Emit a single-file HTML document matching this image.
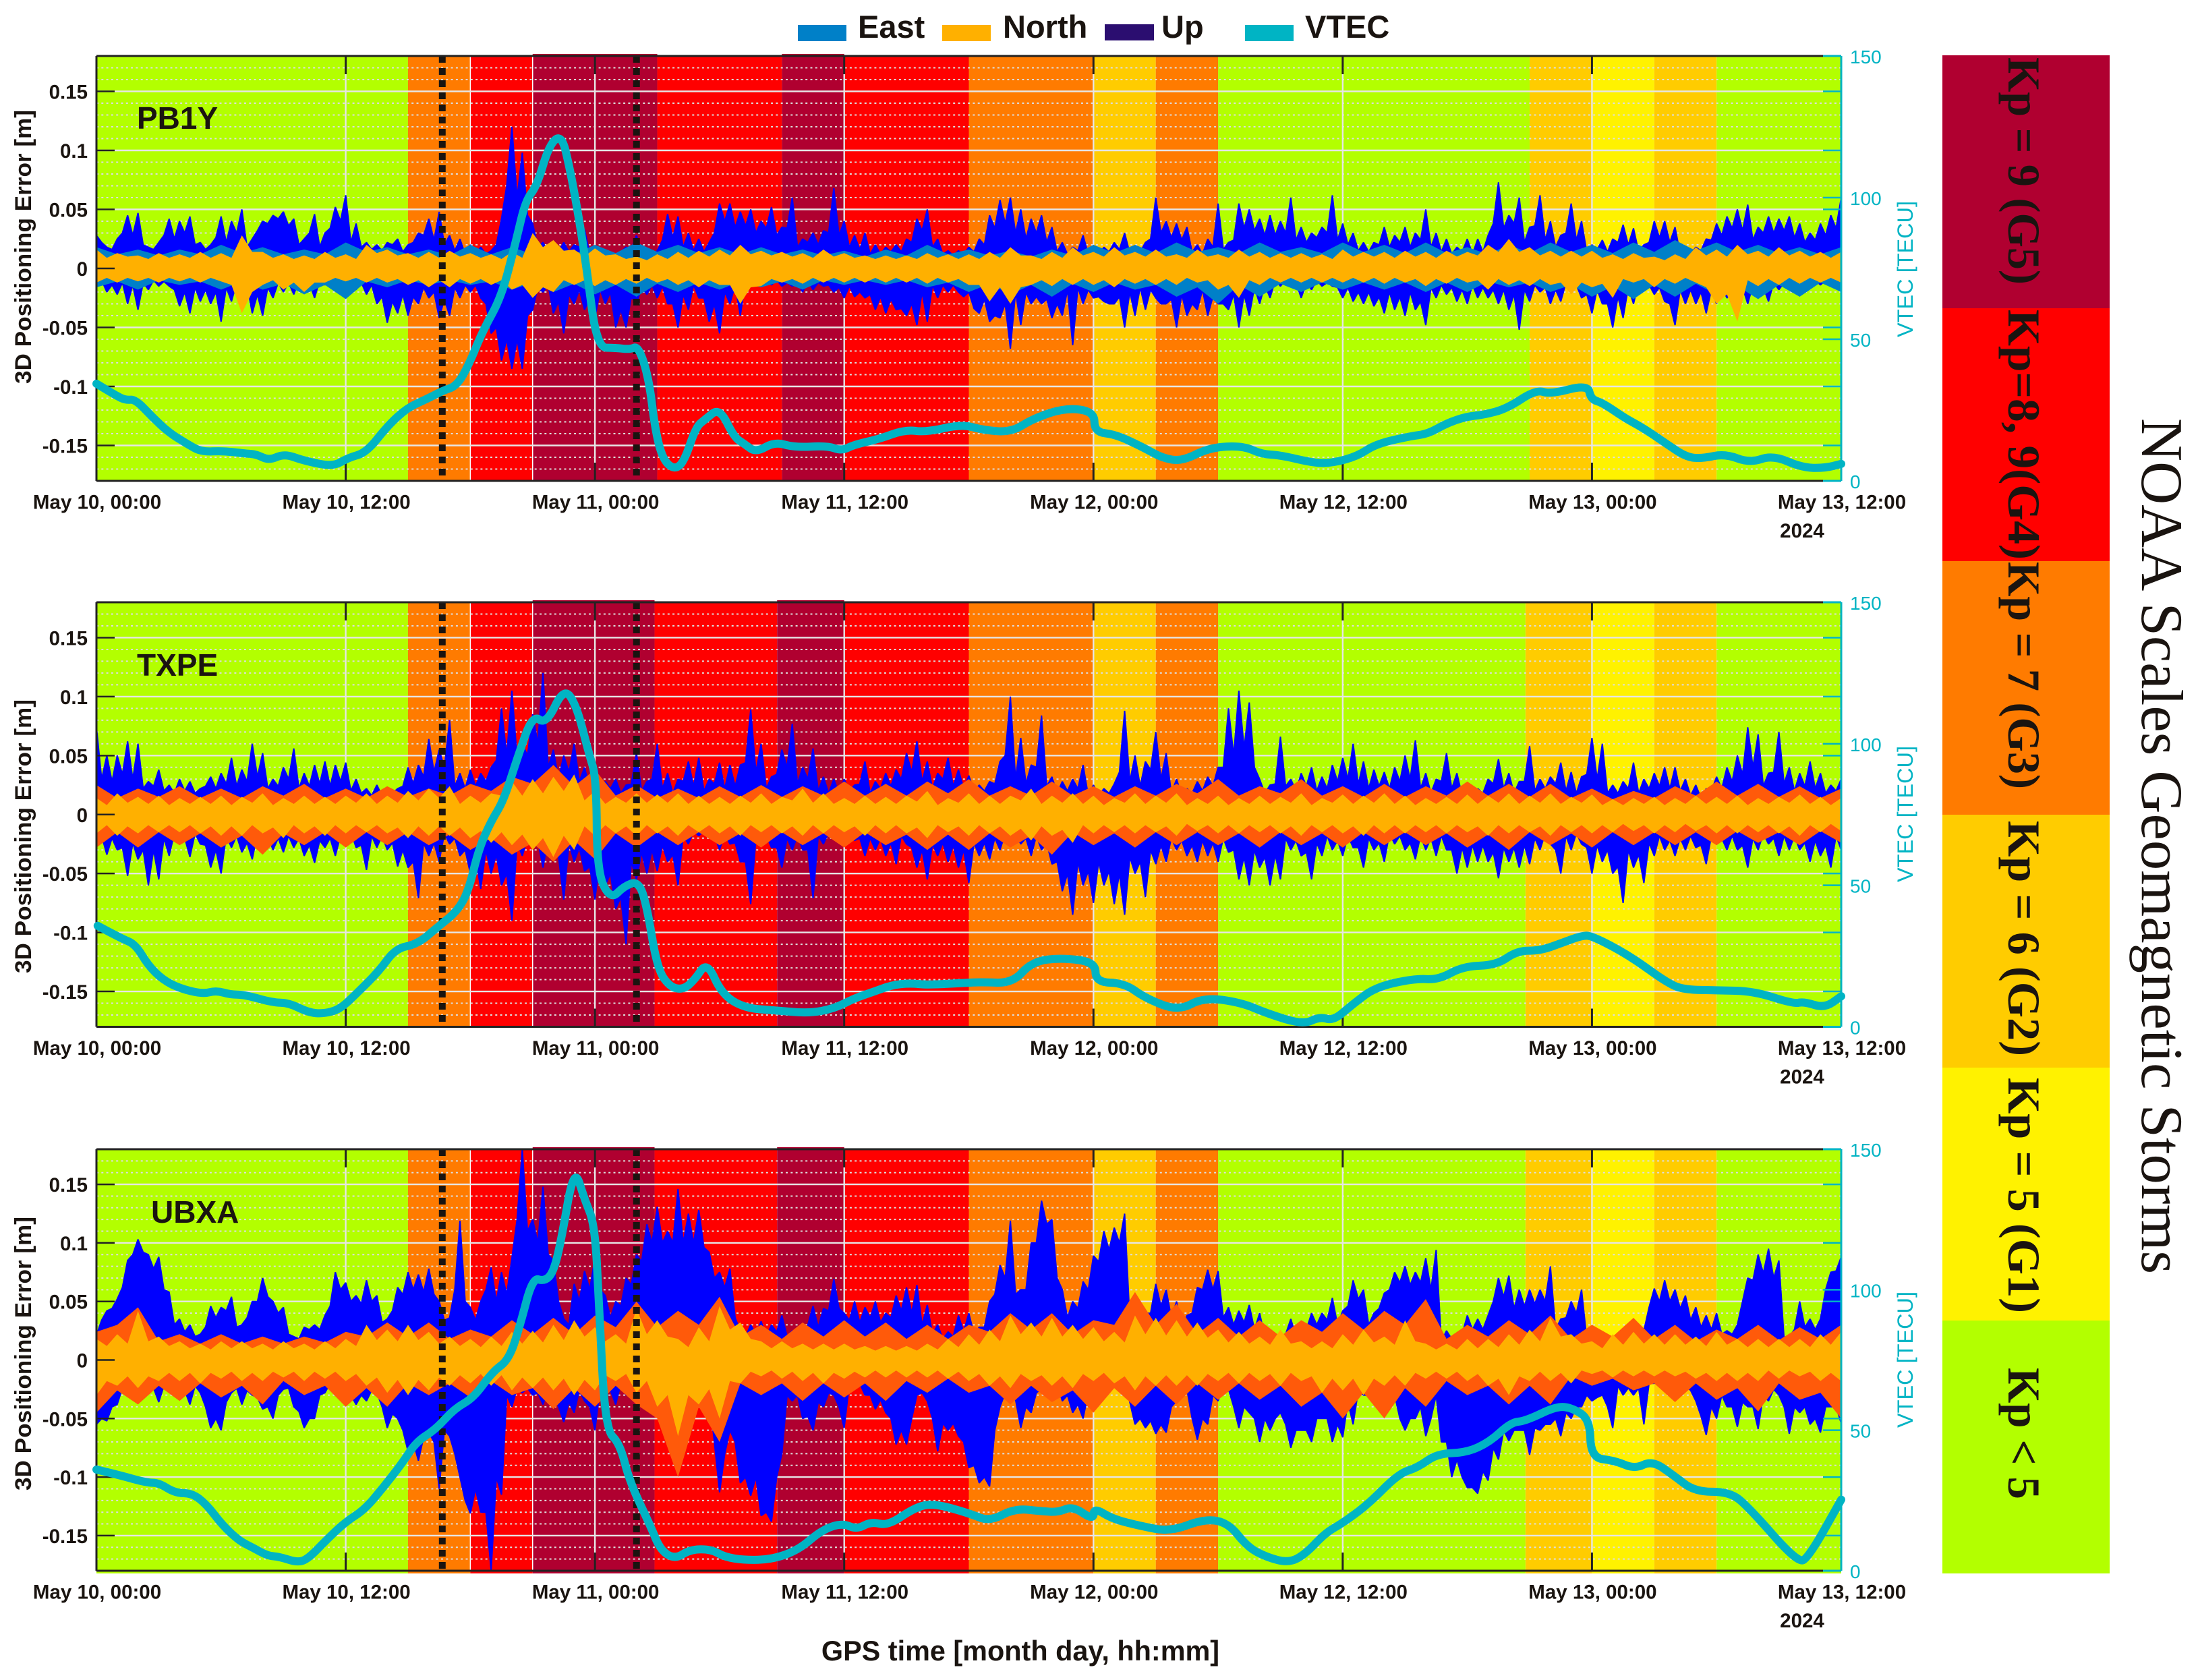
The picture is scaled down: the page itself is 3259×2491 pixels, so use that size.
<!DOCTYPE html>
<html lang="en">
<head>
<meta charset="utf-8">
<title>3D positioning error and VTEC during the May 2024 geomagnetic storm</title>
<style>
html,body{margin:0;padding:0;background:#fff;}
svg{display:block;}
text{font-family:"Liberation Sans",sans-serif;fill:#1a1410;}
.serif{font-family:"Liberation Serif",serif;}
.b{font-weight:700;}
</style>
</head>
<body>
<svg id="chart" xmlns="http://www.w3.org/2000/svg" width="3259" height="2491" viewBox="0 0 3259 2491">
  <rect x="0" y="0" width="3259" height="2491" fill="#fff"/>

  <g>
    <g>
      <rect x="1183" y="37" width="72" height="24" fill="#0080c8"/>
      <text class="b" x="1272" y="56" font-size="47">East</text>
    </g>
    <g>
      <rect x="1397" y="37" width="72" height="24" fill="#ffb000"/>
      <text class="b" x="1487" y="56" font-size="47">North</text>
    </g>
    <g>
      <rect x="1638" y="36" width="73" height="24" fill="#2b0e70"/>
      <text class="b" x="1722" y="56" font-size="47">Up</text>
    </g>
    <g>
      <rect x="1846" y="37" width="72" height="24" fill="#00b4c4"/>
      <text class="b" x="1935" y="56" font-size="47">VTEC</text>
    </g>
  </g>

  <g id="panels"></g>

  <text class="b" x="1513" y="2462" font-size="41.4" text-anchor="middle">GPS time [month day, hh:mm]</text>

  <g>
    <rect x="2880" y="82" width="248" height="376" fill="#b00030"/>
    <rect x="2880" y="457" width="248" height="376" fill="#ff0000"/>
    <rect x="2880" y="832" width="248" height="376" fill="#ff7b00"/>
    <rect x="2880" y="1208" width="248" height="375" fill="#ffcc00"/>
    <rect x="2880" y="1583" width="248" height="375" fill="#fff200"/>
    <rect x="2880" y="1958" width="248" height="375" fill="#b3ff00"/>
    <text class="serif b" font-size="68" transform="translate(2978 85) rotate(90)" textLength="337" lengthAdjust="spacingAndGlyphs">Kp = 9 (G5)</text>
    <text class="serif b" font-size="68" transform="translate(2978 459) rotate(90)" textLength="371" lengthAdjust="spacingAndGlyphs">Kp=8, 9(G4)</text>
    <text class="serif b" font-size="68" transform="translate(2978 833) rotate(90)" textLength="337" lengthAdjust="spacingAndGlyphs">Kp = 7 (G3)</text>
    <text class="serif b" font-size="68" transform="translate(2978 1217) rotate(90)" textLength="349" lengthAdjust="spacingAndGlyphs">Kp = 6 (G2)</text>
    <text class="serif b" font-size="68" transform="translate(2978 1598) rotate(90)" textLength="349" lengthAdjust="spacingAndGlyphs">Kp = 5 (G1)</text>
    <text class="serif b" font-size="68" transform="translate(2978 2028) rotate(90)" textLength="195" lengthAdjust="spacingAndGlyphs">Kp &lt; 5</text>
  </g>
  <text class="serif" font-size="88" transform="translate(3176 620) rotate(90)" textLength="1269" lengthAdjust="spacingAndGlyphs">NOAA Scales Geomagnetic Storms</text>
</svg>

<script>
// ---- shared axis data ----
const xTickHours = [0, 12, 24, 36, 48, 60, 72, 84];
const xTickLabels = ["May 10, 00:00", "May 10, 12:00", "May 11, 00:00", "May 11, 12:00", "May 12, 00:00", "May 12, 12:00", "May 13, 00:00", "May 13, 12:00"];
const yTickValues = [0.15, 0.1, 0.05, 0, -0.05, -0.1, -0.15];
const yTickLabels = ["0.15", "0.1", "0.05", "0", "-0.05", "-0.1", "-0.15"];
const vtecTickValues = [0, 50, 100, 150];
const vtecTickLabels = ["0", "50", "100", "150"];
const stormHours = [16.65, 26];
const seamHours = [18, 21];
const kpColors = {quiet: "#b3ff00", g1: "#fff200", g2: "#ffcc00", g3: "#ff7b00", g4: "#ff0000", g5: "#b00030"};

// Kp zones: start hours (end of the last = 84)
const zoneLevels = ["quiet", "g3", "g4", "g5", "g4", "g5", "g4", "g3", "g2", "g3", "quiet", "g2", "g1", "g2", "quiet"];
const zoneStartsA = [0, 15, 18, 21, 27, 33, 36, 42, 48, 51, 54, 69, 72, 75, 78];
const zoneStartsB = [0, 15, 18, 21, 26.87, 32.77, 36, 42, 48, 51, 54, 68.8, 72, 75, 78];

// ---- PB1Y series (values in mm, VTEC in TECU). "Mid" arrays hold the readings between the main samples ----
const pb1yUpTop = [28,18,25,45,47,18,22,42,40,44,22,20,44,40,50,25,40,45,48,42,25,46,30,52,62,38,22,20,22,25,20,30,42,48,28,25,20,18,15,42,120,98,38,22,20,22,20,33,15,12,12,18,28,15,15,46,44,30,25,22,55,55,
48,50,40,52,35,60,25,30,32,68,40,28,30,20,18,20,25,42,50,25,15,15,18,25,45,58,60,50,42,45,35,22,18,28,15,18,22,30,18,22,60,40,38,35,20,25,55,22,55,50,42,45,40,60,35,30,35,62,38,30,22,22,35,28,35,30,50,30,25,18,25,25,
28,73,45,60,35,62,40,28,55,40,20,24,25,37,34,20,40,40,35,18,18,25,38,44,50,54,35,44,42,44,38,30,38,45,60];
const pb1yUpTopMid = [22,16,30,28,20,16,28,25,30,20,
16,26,22,30,18,32,38,42,36,20,
30,18,34,40,22,18,16,15,20,14,
22,28,24,20,15,12,12,12,20,70,
60,45,18,14,14,14,18,12,10,10,
14,16,14,11,24,26,18,15,14,30,
40,35,36,30,34,28,34,18,22,20,
30,28,18,16,12,12,14,14,22,32,
18,12,11,12,14,20,34,38,30,25,
30,22,14,12,15,12,11,14,16,13,
14,25,30,26,24,14,12,18,16,24,
34,32,28,28,30,24,22,26,30,24,
20,15,14,20,18,22,18,24,18,14,
12,14,12,14,38,34,38,22,36,24,
18,30,24,14,16,14,22,20,14,22,
26,22,12,12,15,24,28,34,32,24,
30,30,32,26,22,24,28,34];
const pb1yUpBottom = [-12,-20,-22,-30,-35,-18,-15,-15,-32,-38,-28,-30,-45,-28,-18,-38,-40,-25,-20,-22,-12,-25,-14,-12,-10,-18,-22,-30,-46,-38,-40,-30,-25,-42,-40,-25,-20,-25,-55,-78,-85,-85,-35,-20,-38,-55,-30,-35,-42,-30,-50,-50,-30,-22,-25,-30,-50,-35,-25,-45,-55,-30,
-40,-12,-12,-14,-15,-15,-20,-18,-15,-20,-25,-24,-25,-35,-38,-35,-40,-48,-45,-25,-20,-20,-20,-38,-45,-42,-68,-48,-30,-30,-42,-40,-65,-30,-25,-28,-30,-50,-40,-35,-25,-30,-50,-40,-35,-40,-30,-35,-50,-40,-30,-25,-15,-15,-25,-18,-15,-15,-25,-28,-30,-32,-38,-35,-40,-35,-48,-25,-22,-28,-30,-25,
-25,-30,-35,-52,-28,-20,-30,-28,-18,-25,-38,-30,-50,-42,-30,-18,-22,-28,-48,-30,-30,-38,-30,-25,-35,-30,-25,-28,-18,-18,-16,-14,-14,-12,-12];
const pb1yUpBottomMid = [-10,-14,-12,-14,-12,-10,-11,-18,-20,-16,
-18,-20,-16,-12,-14,-22,-16,-12,-12,-10,
-12,-10,-10,-8,-10,-12,-14,-24,-28,-22,
-24,-16,-20,-26,-16,-14,-14,-30,-50,-60,
-60,-40,-16,-14,-28,-22,-18,-25,-18,-20,
-35,-24,-16,-14,-15,-30,-22,-14,-25,-30,
-20,-14,-10,-9,-10,-10,-12,-12,-10,-12,
-14,-16,-15,-20,-22,-24,-26,-34,-30,-20,
-14,-14,-14,-24,-34,-26,-40,-30,-20,-20,
-24,-26,-30,-18,-16,-18,-24,-30,-24,-20,
-16,-18,-30,-26,-22,-30,-18,-24,-30,-22,
-22,-16,-14,-10,-10,-12,-12,-10,-12,-16,
-16,-20,-20,-24,-20,-24,-20,-28,-16,-14,
-16,-18,-14,-16,-18,-18,-22,-18,-14,-16,
-18,-12,-14,-22,-18,-30,-24,-16,-12,-14,
-16,-30,-18,-18,-20,-18,-16,-20,-16,-14,
-16,-12,-12,-11,-10,-10,-10,-10];
const pb1yNorthTop = [16,13,11,13,12,14,13,28,14,12,11,14,12,20,16,13,14,15,13,12,14,30,24,16,17,12,10,12,14,15,16,20,15,14,13,16,13,11,11,11,13,12,12,14,18,11,14,18,14,18,14,16,12,16,12,16,14,13,13,12,16,14,14,15,14,15,14,20,25,18,15,15,15,12,13,10,12,18,16,20,15,18,15,14,14];
const pb1yNorthTopMid = [9,10,8,9,9,9,9,14,9,8,
8,9,8,13,11,9,9,10,9,8,
9,18,15,10,11,8,7,8,9,10,
11,12,11,10,9,10,9,8,8,8,
9,8,8,9,11,8,9,11,10,11,
10,10,9,10,9,10,9,9,9,8,
10,10,9,10,9,10,11,14,14,11,
10,10,9,8,9,7,8,11,10,12,
10,11,10,9];
const pb1yNorthBottom = [-12,-12,-11,-12,-11,-12,-11,-38,-14,-18,-20,-12,-11,-12,-12,-14,-16,-16,-13,-14,-18,-25,-20,-14,-15,-14,-13,-12,-14,-16,-14,-30,-15,-12,-13,-12,-12,-12,-12,-12,-13,-12,-14,-28,-30,-14,-15,-14,-14,-16,-13,-14,-14,-12,-18,-25,-14,-12,-12,-12,-12,-12,-13,-12,-15,-13,-12,-18,-14,-15,-14,-22,-16,-25,-12,-16,-13,-12,-30,-45,-15,-14,-13,-12,-12];
const pb1yNorthBottomMid = [-8,-8,-8,-8,-8,-8,-14,-20,-10,-12,
-12,-8,-8,-8,-9,-10,-10,-9,-9,-10,
-14,-16,-10,-10,-10,-9,-8,-9,-10,-10,
-14,-16,-9,-9,-8,-8,-8,-8,-8,-8,
-8,-9,-14,-16,-16,-10,-9,-9,-10,-9,
-9,-9,-8,-10,-14,-10,-8,-8,-8,-8,
-8,-8,-8,-9,-9,-8,-10,-9,-10,-9,
-12,-12,-13,-9,-9,-9,-8,-16,-22,-10,
-9,-8,-8,-8];
const pb1yEastTop = [18,16,16,20,18,16,22,18,16,20,18,16,20,22,20,18,18,16,15,16,20,16,15,16,20,20,22,18,22,18,22,20,22,18,20,22,20,22,24,22,20,18,18];
const pb1yEastTopMid = [12,11,12,13,12,12,14,12,11,12,12,12,13,14,13,12,12,11,10,11,12,11,10,11,13,13,14,13,14,13,14,13,13,12,13,14,13,14,15,14,13,12];
const pb1yEastBottom = [-16,-18,-14,-18,-18,-22,-26,-16,-14,-14,-18,-20,-22,-24,-20,-18,-16,-18,-14,-14,-16,-20,-22,-24,-20,-18,-24,-30,-24,-20,-18,-18,-20,-20,-16,-20,-24,-26,-24,-22,-26,-24,-20];
const pb1yEastBottomMid = [-11,-10,-11,-11,-13,-14,-11,-10,-10,-11,-12,-13,-14,-13,-12,-11,-11,-10,-10,-10,-12,-13,-14,-13,-12,-14,-16,-14,-13,-12,-12,-12,-12,-11,-12,-14,-15,-14,-13,-15,-14,-12];
const pb1yVtecHours = [0,0.96,1.41,1.87,2.67,3.46,4.37,5.06,6.08,7.22,7.68,8.31,9.04,9.95,11.39,12.1,13,14.05,14.97,15.88,16.67,17.36,17.93,18.6,19.5,20.2,20.66,21.2,21.8,22.4,22.8,23.2,23.6,24.1,25,25.67,26.1,26.6,26.9,27.27,27.84,28.3,28.86,29.3,30,30.7,31.2,31.75,32.66,33.6,35.2,35.85,36.5,37.7,38.93,39.95,41.66,42.7,44.05,45.1,46.67,48.04,48.05,49.07,50.4,51.3,52.25,53.6,55.2,56.1,57,58.6,59.5,60.7,61.6,63.2,64.1,65,65.95,66.79,67.9,69.3,70,71.8,71.95,72.5,73.6,74.5,75.6,76.55,77.3,78.4,79.6,80.7,82.1,83.2,84];
const pb1yVtecValues = [34.3,30,28.5,28.8,22.7,17.2,13,10.2,10.6,9.6,9.4,7.2,9.6,7.2,5,8.1,10,19.7,25.8,28.8,31.8,33.6,41,53,65,84.7,99,104,118.7,122.3,110,94,75,47,47,46.4,47.6,36,17.9,7.5,3.9,6.9,19,21.7,25.8,15.4,13,10,13.8,11.8,12.4,10.6,12.8,14.8,18.1,17.2,20,17.9,17.2,22,25.8,24.5,17.2,16.4,11.8,8.1,6.9,11.8,12.4,9.4,9.1,6.3,6.3,8.7,13,15.7,16.6,20.3,22.7,23.3,25.5,32.2,30.6,34,28.8,27.6,22.1,18.5,13,8.4,7.9,9.6,6.3,9.1,4.7,4.5,6];

// ---- TXPE series ----
const txpeUpTop = [74,50,50,62,60,28,38,25,30,28,22,32,35,48,38,60,52,30,40,56,35,42,45,42,44,30,22,25,20,22,40,42,64,55,80,35,38,35,40,90,105,60,85,120,55,50,60,40,30,28,30,25,52,28,60,35,30,45,48,30,44,42,42,89,60,32,55,77,40,56,32,30,30,25,45,28,35,38,52,62,45,35,48,38,
33,25,28,45,100,65,42,84,32,28,30,42,25,22,26,88,50,45,70,52,30,22,28,32,40,90,105,95,30,25,66,30,35,40,32,42,48,60,45,38,36,40,50,63,35,30,52,35,25,22,30,47,35,28,58,30,32,44,36,32,65,60,25,28,44,30,35,40,40,30,25,22,32,40,50,74,68,35,70,40,35,45,35,25,30];
const txpeUpTopMid = [30,28,34,30,22,24,20,18,20,18,
24,22,26,24,28,32,22,24,30,22,
24,26,24,28,20,18,16,16,18,24,
26,32,36,40,24,22,24,28,46,50,
48,50,60,40,30,36,28,22,20,22,
18,26,20,30,22,18,28,24,20,26,
22,24,44,36,22,34,40,26,30,20,
18,18,20,26,18,22,24,30,36,28,
22,30,24,22,20,20,26,50,30,26,
40,24,18,20,22,16,16,18,36,28,
24,38,30,18,16,18,20,24,40,50,
56,40,18,26,24,20,24,20,22,28,
30,26,22,24,22,28,30,22,18,28,
22,16,16,18,26,22,18,28,20,22,
26,20,18,34,30,18,18,22,18,22,
24,22,20,16,14,20,22,28,34,40,
24,36,26,20,24,22,18,20];
const txpeUpBottom = [-25,-34,-30,-52,-38,-60,-55,-35,-25,-36,-25,-45,-50,-28,-32,-38,-25,-30,-32,-28,-35,-41,-28,-35,-22,-28,-47,-28,-30,-44,-45,-71,-35,-40,-25,-35,-50,-63,-50,-60,-90,-35,-28,-45,-30,-72,-40,-48,-72,-60,-80,-110,-55,-50,-48,-40,-60,-25,-18,-18,-30,-25,-40,-76,-25,-28,-45,-30,-30,-71,-25,-20,-18,-22,-35,-30,-35,-42,-25,-45,-55,-35,-40,-45,
-58,-35,-38,-30,-25,-25,-35,-30,-42,-65,-85,-60,-75,-60,-76,-85,-50,-70,-42,-40,-30,-35,-40,-35,-40,-32,-55,-60,-45,-60,-55,-30,-35,-55,-35,-30,-35,-28,-45,-30,-40,-25,-30,-38,-30,-35,-30,-50,-45,-40,-40,-54,-40,-45,-42,-30,-25,-50,-30,-25,-50,-40,-50,-75,-45,-58,-35,-30,-35,-30,-28,-42,-25,-30,-30,-45,-30,-25,-35,-30,-30,-40,-35,-45,-30];
const txpeUpBottomMid = [-18,-20,-28,-24,-30,-30,-20,-16,-20,-16,
-26,-30,-18,-18,-24,-16,-18,-20,-18,-20,
-26,-22,-20,-18,-15,-26,-18,-18,-24,-30,
-40,-24,-24,-16,-20,-30,-36,-30,-34,-50,
-24,-20,-22,-20,-36,-24,-28,-44,-36,-50,
-70,-40,-32,-30,-26,-34,-18,-14,-14,-18,
-16,-24,-40,-20,-18,-28,-20,-18,-30,-18,
-15,-13,-14,-20,-20,-20,-24,-18,-28,-30,
-25,-24,-26,-30,-24,-24,-20,-16,-16,-20,
-18,-24,-40,-50,-40,-48,-40,-48,-50,-36,
-40,-30,-26,-20,-22,-26,-22,-24,-20,-30,
-36,-30,-36,-34,-20,-22,-32,-24,-18,-22,
-18,-28,-20,-24,-16,-18,-24,-18,-20,-18,
-30,-28,-26,-26,-32,-28,-28,-26,-20,-16,
-30,-18,-16,-28,-26,-30,-44,-30,-34,-24,
-18,-22,-20,-18,-26,-18,-20,-18,-26,-20,
-16,-20,-18,-18,-24,-22,-26,-18];
const txpeNorthTop = [14,18,15,16,14,15,16,15,18,14,16,15,16,18,16,20,22,24,16,18,28,30,32,34,20,15,18,17,18,16,15,16,18,15,22,18,14,16,15,16,20,14,18,16,16,22,16,18,16,14,18,16,18,14,16,14,16,15,18,14,17,16,18,16,14,15,17,16,18,16,18,15,17,13,14,15,14,16,15,16,14,15,17,15,14];
const txpeNorthTopMid = [8,10,9,8,9,9,8,10,8,9,
9,9,10,9,10,12,14,9,10,16,
16,18,20,12,9,10,10,10,9,9,
9,10,9,12,10,9,9,9,9,11,
8,10,9,9,12,9,10,9,8,10,
9,10,8,9,8,9,9,10,8,10,
9,10,9,8,9,9,9,10,9,10,
9,10,8,8,9,8,9,9,9,8,
9,10,9,8];
const txpeNorthBottom = [-16,-18,-16,-15,-15,-16,-18,-18,-16,-20,-16,-18,-16,-15,-16,-20,-18,-18,-20,-24,-26,-30,-36,-30,-18,-16,-18,-16,-18,-15,-16,-18,-15,-16,-18,-16,-15,-18,-16,-16,-20,-15,-18,-16,-18,-22,-18,-24,-16,-15,-16,-15,-18,-14,-16,-16,-15,-16,-18,-15,-16,-18,-16,-16,-15,-16,-15,-18,-16,-15,-18,-15,-16,-15,-14,-16,-15,-14,-16,-16,-15,-16,-18,-15,-14];
const txpeNorthBottomMid = [-9,-10,-9,-9,-9,-10,-10,-9,-11,-9,
-10,-9,-9,-9,-11,-10,-10,-11,-14,-15,
-17,-20,-18,-10,-9,-10,-9,-10,-9,-9,
-10,-9,-9,-10,-9,-9,-10,-9,-9,-11,
-9,-10,-9,-10,-12,-10,-13,-9,-9,-9,
-9,-10,-8,-9,-9,-9,-9,-10,-9,-9,
-10,-9,-9,-9,-9,-9,-10,-9,-9,-10,
-9,-9,-9,-8,-9,-9,-8,-9,-9,-9,
-9,-10,-9,-8];
const txpeEastTop = [25,22,24,22,24,26,22,24,22,26,32,42,38,25,22,24,25,24,28,26,28,30,24,28,24,24,26,30,24,30,24,26,24,28,26,26,22,20,24,28,26,24,22];
const txpeEastTopMid = [14,15,14,14,16,14,14,15,16,20,26,24,16,14,14,15,15,16,16,16,18,16,16,16,15,16,18,16,18,16,15,15,16,16,15,14,13,14,16,16,15,14];
const txpeEastBottom = [-28,-28,-26,-28,-34,-26,-28,-26,-26,-30,-34,-40,-38,-28,-26,-26,-28,-26,-28,-26,-30,-30,-28,-34,-26,-28,-26,-26,-28,-26,-28,-26,-26,-28,-30,-26,-28,-26,-26,-26,-24,-26,-24];
const txpeEastBottomMid = [-15,-15,-16,-18,-16,-15,-15,-15,-17,-20,-24,-22,-16,-15,-15,-16,-15,-16,-15,-17,-17,-16,-18,-15,-16,-15,-15,-16,-15,-16,-15,-15,-16,-17,-15,-16,-15,-15,-15,-14,-15,-14];
const txpeVtecHours = [0.06,1.2,1.87,2.5,3.2,4,5.1,5.77,6.44,7.1,8.46,9.27,10.2,10.9,11.7,12.5,13.6,14.4,15.46,16.5,17.35,17.9,18.4,19,19.6,20.3,21,21.65,22.5,23.1,23.7,24.07,24.1,24.75,25.4,26.1,26.5,27,27.6,28.25,28.8,29.4,30.1,31.2,32.7,34.3,35.5,36.5,37.3,38.3,39.2,40,41.8,42.6,44.1,45.05,46.5,48.1,48.1,49.5,50.5,52.1,53.3,55.1,56.4,58.1,58.9,59.55,60.5,61.6,63.5,64.6,65.8,67.4,68.4,69.5,70.5,71.5,72,73.8,75.7,76.5,78,79.8,81.7,82.2,83.2,84];
const txpeVtecValues = [35.7,31.2,29.2,21.6,16.6,13.6,11.6,12.8,11.4,11.4,8.6,8.4,5.1,4.6,6.1,11.6,19.6,27.7,29.2,35.7,40.7,47.7,62.7,72.7,79.8,95.8,110.3,106.8,119.8,113.8,96.8,87.8,54.7,44.9,49.7,51.5,42.7,20.6,14.1,13.1,16.6,23.1,11.6,6.6,5.8,4.8,6.4,10.1,12.1,14.8,15.4,14.8,15.5,15.8,15.4,23.1,24.4,22.8,15.8,15.4,10.1,5.6,10.4,8.6,4.6,0.8,3.6,2.1,8.1,14.1,17.1,16.6,21.4,21.8,26.9,26.9,29.5,32.2,32.2,25.2,15.1,13.1,12.9,12.6,8.1,8.9,6.6,10.8];

// ---- UBXA series ----
const ubxaUpTop = [21,42,52,85,103,90,88,58,35,30,22,46,45,54,30,50,70,50,45,20,28,30,38,75,66,55,68,55,35,62,75,73,78,50,36,119,45,50,79,75,87,180,120,148,85,35,65,76,87,55,50,70,90,116,131,110,146,125,128,92,75,78,25,
30,33,30,38,25,22,46,44,69,40,50,45,50,40,55,62,64,47,30,24,38,40,28,50,81,119,60,100,136,120,60,50,67,89,110,113,125,50,40,65,60,50,38,62,77,76,45,42,47,40,25,20,35,25,40,40,53,42,68,60,40,57,75,80,75,87,94,25,20,38,35,38,70,72,60,60,60,80,35,50,60,22,20,12,15,22,25,61,68,60,55,45,38,40,25,30,70,90,95,85,20,50,35,35,75,88];
const ubxaUpTopMid = [34,44,62,90,92,78,60,30,24,20,
28,36,42,28,36,50,54,40,22,18,
26,26,46,60,50,48,50,32,42,56,
60,58,56,34,60,50,34,60,50,56,
120,110,100,90,50,30,50,60,60,36,
46,64,84,100,100,100,100,100,96,70,
62,36,20,22,20,24,20,18,30,28,
42,44,34,32,36,32,36,42,40,30,
22,18,20,24,22,28,56,70,56,60,
100,116,70,36,44,60,84,94,100,34,
22,40,46,36,26,40,60,60,36,30,
32,26,20,16,22,20,26,30,34,30,
46,52,30,44,60,66,64,66,60,16,
18,22,26,26,50,54,44,46,48,50,
26,36,40,18,14,10,10,16,20,45,
50,50,44,34,28,26,22,22,50,68,
74,70,18,26,28,26,60,76];
const ubxaUpBottom = [-55,-52,-38,-27,-20,-25,-36,-25,-30,-38,-28,-58,-60,-28,-38,-30,-42,-50,-25,-40,-58,-50,-28,-25,-35,-38,-35,-28,-58,-50,-78,-86,-62,-110,-65,-100,-131,-130,-180,-115,-40,-28,-30,-38,-30,-53,-45,-35,-60,-28,-38,-30,-25,-28,-30,-40,-48,-35,-33,-30,-113,-60,-105,-116,-133,-138,-80,-35,-50,-60,-40,-30,-58,-22,-30,-42,-45,-72,-72,-30,-35,-78,-60,-65,-92,-105,-108,-40,-30,-58,-45,-25,-22,-35,-45,-50,-28,-22,-20,-20,-55,-58,-63,-62,-35,-25,-68,-55,-35,-25,-58,-45,-70,-60,-45,-75,-60,-70,-50,-70,-66,-55,-30,-38,-35,-30,-60,-50,-65,-30,-70,-85,-109,-114,-103,-85,-69,-60,-81,-60,-55,-65,-50,-40,-35,-30,-58,-30,-30,-55,-20,-18,-25,-22,-35,-64,-50,-40,-57,-40,-59,-35,-30,-63,-45,-55,-62,-40,-54];
const ubxaUpBottomMid = [-50,-40,-24,-18,-18,-24,-22,-20,-26,-22,
-40,-50,-36,-24,-26,-32,-40,-30,-24,-44,
-50,-30,-20,-24,-30,-30,-26,-40,-46,-60,
-70,-66,-70,-60,-80,-120,-110,-130,-100,-30,
-24,-24,-28,-24,-40,-36,-26,-40,-24,-26,
-20,-20,-20,-22,-28,-36,-30,-24,-24,-70,
-80,-70,-100,-100,-130,-100,-30,-30,-48,-36,
-28,-40,-20,-20,-30,-34,-50,-60,-50,-28,
-50,-54,-54,-70,-90,-100,-60,-28,-34,-40,
-28,-18,-20,-30,-38,-28,-20,-18,-18,-36,
-50,-52,-55,-40,-24,-50,-50,-30,-22,-40,
-40,-50,-50,-50,-55,-60,-60,-50,-50,-55,
-36,-26,-30,-28,-40,-50,-50,-40,-50,-70,
-100,-100,-109,-95,-75,-60,-60,-60,-58,-55,
-50,-45,-40,-30,-32,-40,-22,-24,-24,-20,
-15,-18,-18,-26,-48,-40,-30,-40,-36,-40,
-30,-25,-40,-40,-40,-50,-40,-40];
const ubxaNorthTop = [18,22,42,20,16,14,16,16,14,16,14,16,18,30,26,30,24,20,18,20,24,25,30,34,28,22,44,34,18,28,46,32,16,16,14,14,14,12,12,12,14,18,22,26,38,32,36,30,28,24,38,36,34,32,26,24,20,26,16,16,22,26,20,34,14,14,18,18,22,26,36,22,16,22,24,22,22,20,24,18,18,18,18,22,24];
const ubxaNorthTopMid = [12,14,16,12,10,9,10,10,9,10,
9,10,12,17,16,17,14,12,11,12,
14,15,17,20,16,14,22,20,11,16,
26,18,10,10,9,9,9,8,8,8,
9,11,13,16,22,20,20,18,16,15,
22,21,20,19,15,14,13,14,10,10,
13,15,13,16,9,9,10,11,13,16,
20,14,10,13,14,13,13,12,13,11,
11,11,11,13];
const ubxaNorthBottom = [-30,-22,-24,-18,-18,-20,-16,-18,-18,-15,-18,-16,-18,-22,-28,-30,-26,-22,-20,-22,-26,-24,-26,-30,-26,-18,-28,-40,-65,-38,-50,-20,-14,-16,-18,-20,-16,-15,-15,-15,-15,-16,-18,-22,-24,-18,-22,-24,-18,-20,-26,-22,-22,-22,-18,-20,-18,-22,-18,-28,-26,-30,-22,-22,-16,-16,-18,-22,-30,-18,-18,-20,-12,-15,-14,-14,-14,-16,-18,-18,-18,-16,-14,-18,-18];
const ubxaNorthBottomMid = [-18,-14,-14,-11,-11,-11,-10,-11,-10,-10,
-10,-10,-12,-15,-17,-17,-15,-13,-12,-13,
-15,-15,-16,-17,-13,-12,-18,-30,-30,-25,
-18,-10,-9,-10,-11,-11,-10,-9,-9,-9,
-9,-10,-12,-14,-12,-13,-14,-12,-11,-14,
-14,-13,-13,-12,-11,-11,-12,-11,-14,-16,
-16,-16,-13,-11,-10,-10,-12,-16,-14,-10,
-11,-9,-9,-9,-9,-9,-10,-11,-11,-11,
-9,-9,-10,-11];
const ubxaEastTop = [24,45,22,22,20,20,24,32,32,26,34,36,38,50,42,54,30,32,34,32,30,30,40,40,34,58,48,36,34,34,40,42,52,30,34,38,30,36,30,26,30,28,30];
const ubxaEastTopMid = [30,16,14,14,14,15,20,20,18,20,22,22,28,28,30,20,18,20,20,18,18,24,26,22,30,30,22,20,20,24,26,30,18,20,22,18,20,18,16,18,17,18];
const ubxaEastBottom = [-45,-38,-35,-32,-38,-30,-40,-40,-30,-32,-30,-42,-40,-38,-100,-70,-30,-35,-32,-35,-28,-28,-38,-36,-45,-40,-38,-34,-34,-40,-50,-50,-40,-30,-38,-38,-22,-26,-36,-34,-44,-34,-50];
const ubxaEastBottomMid = [-26,-22,-20,-22,-18,-22,-24,-20,-20,-18,-24,-24,-22,-50,-40,-20,-20,-20,-20,-18,-16,-22,-22,-26,-24,-22,-20,-20,-22,-28,-28,-24,-18,-22,-22,-14,-16,-20,-20,-24,-20,-28];
const ubxaVtecHours = [0,1.07,2.44,3,3.8,4.6,5.3,6.08,6.88,7.56,8.25,8.8,9.68,10.2,11.1,12,12.9,13.83,14.74,15.4,16.33,17.24,18.15,19.07,19.86,20.4,21,21.57,22,22.37,23,23.5,24,24.2,24.5,25.2,25.67,26.7,27.15,27.84,28.6,29.6,30.25,31.2,32.5,33.8,34.9,35.9,36.6,37.3,38.1,39.4,40.3,42,43,44.2,45.5,46.3,47,48,48.02,48.9,50.2,51.7,53.35,54.5,55.42,56.35,57.4,58.2,59.15,60,61.2,62.7,63.6,64.55,65.95,67.07,68.1,68.8,70.3,71.07,71.9,71.95,73.1,74.06,74.9,75.9,76.95,78.6,79.5,81.9,82.44,84];
const ubxaVtecValues = [36,34.1,31.3,31.3,27.6,27.6,23.6,16.1,10.6,8.1,5.3,5,2.9,4.3,11.2,17.4,21.7,29.8,38.5,45.9,50.3,57.7,61.5,70.8,75.1,87.5,104.3,103,106.2,117.3,144,132.2,123,93.7,50.3,45.3,31.7,15.5,7.4,4.1,7.6,7.6,4.9,3.8,4,7.4,14.4,17,14.7,17.5,16,22.5,24,20.5,17.5,22.2,21.2,20.8,23,18,22.5,18.5,16,13.9,18.5,17,8.4,4.8,2.8,5.9,13.4,17,23.5,34.6,36.7,41.7,42,45.8,52.8,53.3,58.6,57.9,53.8,40.2,39.2,36.2,39.2,34.1,28.1,28.1,23,2.8,4.8,25.3];

// ---- drawing ----
const SVGNS = "http://www.w3.org/2000/svg";
const X0 = 143, X1 = 2730, HOURS = 84, YMAX = 0.18, VTECMAX = 150;
const xScale = h => X0 + (h / HOURS) * (X1 - X0);
function weave(main, mid) {
  const out = [];
  main.forEach((v, i) => {
    out.push(v);
    if (i < mid.length) out.push(mid[i]);
  });
  return out;
}
const panels = [
  {key:"pb1y", name:"PB1Y", top:83, bottom:713, nameX:203, nameY:191, titleY:366, vtecTitleY:399, zones:zoneStartsA, bleed:0,
   upTop:weave(pb1yUpTop,pb1yUpTopMid), upBottom:weave(pb1yUpBottom,pb1yUpBottomMid), northTop:weave(pb1yNorthTop,pb1yNorthTopMid), northBottom:weave(pb1yNorthBottom,pb1yNorthBottomMid), eastTop:weave(pb1yEastTop,pb1yEastTopMid), eastBottom:weave(pb1yEastBottom,pb1yEastBottomMid), vtecHours:pb1yVtecHours, vtecValues:pb1yVtecValues, eastColor:"#0080c8"},
  {key:"txpe", name:"TXPE", top:893, bottom:1522.5, nameX:203, nameY:1002, titleY:1240, vtecTitleY:1207, zones:zoneStartsB, bleed:0,
   upTop:weave(txpeUpTop,txpeUpTopMid), upBottom:weave(txpeUpBottom,txpeUpBottomMid), northTop:weave(txpeNorthTop,txpeNorthTopMid), northBottom:weave(txpeNorthBottom,txpeNorthBottomMid), eastTop:weave(txpeEastTop,txpeEastTopMid), eastBottom:weave(txpeEastBottom,txpeEastBottomMid), vtecHours:txpeVtecHours, vtecValues:txpeVtecValues, eastColor:"#ff5a0a"},
  {key:"ubxa", name:"UBXA", top:1704, bottom:2329, nameX:224, nameY:1813, titleY:2007, vtecTitleY:2016, zones:zoneStartsB, bleed:4,
   upTop:weave(ubxaUpTop,ubxaUpTopMid), upBottom:weave(ubxaUpBottom,ubxaUpBottomMid), northTop:weave(ubxaNorthTop,ubxaNorthTopMid), northBottom:weave(ubxaNorthBottom,ubxaNorthBottomMid), eastTop:weave(ubxaEastTop,ubxaEastTopMid), eastBottom:weave(ubxaEastBottom,ubxaEastBottomMid), vtecHours:ubxaVtecHours, vtecValues:ubxaVtecValues, eastColor:"#ff5a0a"}
];

function make(parent, tag, name, attrs, txt) {
  const el = document.createElementNS(SVGNS, tag);
  for (const k in attrs) el.setAttribute(k, attrs[k]);
  
  
  if (txt !== undefined) el.textContent = txt;
  parent.appendChild(el);
  return el;
}

function bandPath(top, bottom, yScale) {
  const nT = top.length, nB = bottom.length;
  let d = "";
  for (let i = 0; i < nT; i++) {
    d += (i ? "L" : "M") + xScale(i * HOURS / (nT - 1)).toFixed(1) + " " + yScale(top[i] / 1000).toFixed(1);
  }
  for (let i = nB - 1; i >= 0; i--) {
    d += "L" + xScale(i * HOURS / (nB - 1)).toFixed(1) + " " + yScale(bottom[i] / 1000).toFixed(1);
  }
  return d + "Z";
}

function smoothLine(pts) {
  let d = "M" + pts[0][0].toFixed(1) + " " + pts[0][1].toFixed(1);
  for (let i = 1; i < pts.length - 1; i++) {
    const mx = (pts[i][0] + pts[i + 1][0]) / 2, my = (pts[i][1] + pts[i + 1][1]) / 2;
    d += "Q" + pts[i][0].toFixed(1) + " " + pts[i][1].toFixed(1) + " " + mx.toFixed(1) + " " + my.toFixed(1);
  }
  const last = pts[pts.length - 1];
  return d + "L" + last[0].toFixed(1) + " " + last[1].toFixed(1);
}

const root = document.getElementById("panels");
panels.forEach(p => {
  const h = p.bottom - p.top;
  const yScale = v => p.top + (YMAX - v) / (2 * YMAX) * h;
  const vtecScale = v => p.bottom - (v / VTECMAX) * h;
  const g = make(root, "g", "panel-" + p.key, {});

  // Kp background zones
  const bg = make(g, "g", "kp-background-" + p.key, {});
  zoneLevels.forEach((lvl, i) => {
    const a = p.zones[i], b = i + 1 < p.zones.length ? p.zones[i + 1] : HOURS;
    const extra = lvl === "g5" ? 3 : 0;
    make(bg, "rect", "kp-zone-" + lvl, {
      x: xScale(a), y: p.top - extra, width: xScale(b) - xScale(a),
      height: h + extra + p.bleed, fill: kpColors[lvl]
    });
  });
  seamHours.forEach(sh => {
    make(bg, "line", "kp-zone-seam", {x1: xScale(sh), x2: xScale(sh), y1: p.top, y2: p.bottom, stroke: "#fff", "stroke-width": 1.5});
  });

  // grid
  const grid = make(g, "g", "grid-" + p.key, {});
  for (let mm = -170; mm <= 170; mm += 10) {
    if (mm % 50 === 0) continue;
    make(grid, "line", "minor-gridline", {x1: X0, x2: X1, y1: yScale(mm / 1000), y2: yScale(mm / 1000), stroke: "#ddd", "stroke-width": 2, "stroke-dasharray": "3 4.3"});
  }
  yTickValues.forEach(v => {
    make(grid, "line", "major-gridline", {x1: X0, x2: X1, y1: yScale(v), y2: yScale(v), stroke: "#e6e6e6", "stroke-width": 2.4});
  });
  xTickHours.forEach(t => {
    make(grid, "line", "vertical-gridline", {x1: xScale(t), x2: xScale(t), y1: p.top, y2: p.bottom, stroke: "#e6e6e6", "stroke-width": 2.4});
  });

  // traces
  make(g, "path", "up-error-trace-" + p.key, {d: bandPath(p.upTop, p.upBottom, yScale), fill: "#0000ff", stroke: "#0000ff", "stroke-width": 2, "stroke-linejoin": "bevel"});
  make(g, "path", "east-error-trace-" + p.key, {d: bandPath(p.eastTop, p.eastBottom, yScale), fill: p.eastColor});
  make(g, "path", "north-error-trace-" + p.key, {d: bandPath(p.northTop, p.northBottom, yScale), fill: "#ffb000"});

  // storm markers
  stormHours.forEach(sh => {
    make(g, "line", "storm-marker-line", {x1: xScale(sh), x2: xScale(sh), y1: p.top, y2: p.bottom, stroke: "#1a1410", "stroke-width": 10, "stroke-dasharray": "10 8"});
  });

  // frame
  const axes = make(g, "g", "axes-" + p.key, {});
  make(axes, "line", "left-axis-line", {x1: X0, x2: X0, y1: p.top, y2: p.bottom, stroke: "#222", "stroke-width": 3});
  make(axes, "line", "top-axis-line", {x1: X0, x2: X1 - 27, y1: p.top, y2: p.top, stroke: "#222", "stroke-width": 3});
  make(axes, "line", "bottom-axis-line", {x1: X0, x2: X1 - 27, y1: p.bottom, y2: p.bottom, stroke: "#222", "stroke-width": 3});
  make(axes, "line", "right-axis-line", {x1: X1, x2: X1, y1: p.top, y2: p.bottom, stroke: "#00b4c4", "stroke-width": 3});
  make(axes, "line", "right-axis-cap-top", {x1: X1 - 27, x2: X1, y1: p.top, y2: p.top, stroke: "#00b4c4", "stroke-width": 3});
  make(axes, "line", "right-axis-cap-bottom", {x1: X1 - 27, x2: X1, y1: p.bottom, y2: p.bottom, stroke: "#00b4c4", "stroke-width": 3});

  yTickValues.forEach((v, i) => {
    const y = yScale(v);
    make(axes, "line", "y-tick", {x1: X0, x2: X0 + 27, y1: y, y2: y, stroke: "#222", "stroke-width": 2.5});
    if (v !== 0) {
      make(axes, "line", "right-grid-tick", {x1: X1 - 27, x2: X1, y1: y, y2: y, stroke: "#00b4c4", "stroke-width": 2.5});
    }
    make(axes, "text", "y-tick-label", {x: 130, y: y + 11, "font-size": 29.5, "font-weight": 700, "text-anchor": "end"}, yTickLabels[i]);
  });
  xTickHours.forEach((t, i) => {
    const x = xScale(t);
    if (t > 0 && t < HOURS) {
      make(axes, "line", "x-tick-top", {x1: x, x2: x, y1: p.top, y2: p.top + 27, stroke: "#222", "stroke-width": 3});
      make(axes, "line", "x-tick-bottom", {x1: x, x2: x, y1: p.bottom - 27, y2: p.bottom, stroke: "#222", "stroke-width": 3});
    }
    make(axes, "text", "x-tick-label", {x: x + 1, y: p.bottom + 41.5, "font-size": 29.5, "font-weight": 700, "text-anchor": "middle"}, xTickLabels[i]);
  });
  make(axes, "text", "x-axis-year", {x: 2672, y: p.bottom + 84, "font-size": 29.5, "font-weight": 700, "text-anchor": "middle"}, "2024");

  vtecTickValues.forEach((v, i) => {
    const y = vtecScale(v);
    make(axes, "line", "vtec-tick", {x1: X1 - 27, x2: X1, y1: y, y2: y, stroke: "#00b4c4", "stroke-width": 2.5});
    const lbl = make(axes, "text", "vtec-tick-label", {x: 2743, y: y + 11, "font-size": 28}, vtecTickLabels[i]);
    lbl.style.fill = "#00b4c4";
  });

  make(axes, "text", "y-axis-title", {transform: "translate(46 " + p.titleY + ") rotate(-90)", "font-size": 34, "font-weight": 700, "text-anchor": "middle", textLength: 406, lengthAdjust: "spacingAndGlyphs"}, "3D Positioning Error [m]");
  const vt = make(axes, "text", "vtec-axis-title", {transform: "translate(2836 " + p.vtecTitleY + ") rotate(-90)", "font-size": 32, "text-anchor": "middle", textLength: 202, lengthAdjust: "spacingAndGlyphs"}, "VTEC [TECU]");
  vt.style.fill = "#00b4c4";

  // VTEC line
  const pts = p.vtecHours.map((t, i) => [xScale(t), vtecScale(p.vtecValues[i])]);
  make(g, "path", "vtec-line-" + p.key, {d: smoothLine(pts), fill: "none", stroke: "#00b4c4", "stroke-width": 12, "stroke-linejoin": "round", "stroke-linecap": "round"});

  make(g, "text", "station-label-" + p.key, {x: p.nameX, y: p.nameY, "font-size": 46, "font-weight": 700}, p.name);
});
</script>
</body>
</html>
